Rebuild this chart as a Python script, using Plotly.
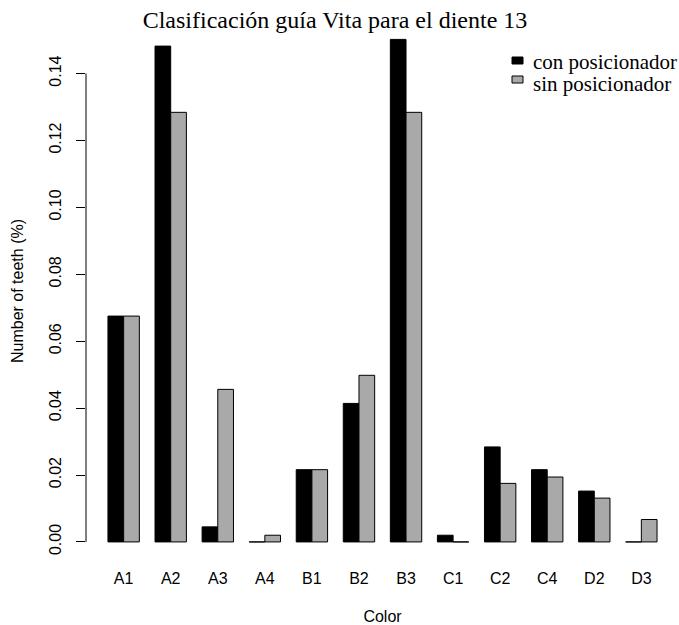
import plotly.graph_objects as go

# Vita shade categories and the share of teeth in each, per protocol
colores = ["A1", "A2", "A3", "A4", "B1", "B2", "B3", "C1", "C2", "C4", "D2", "D3"]
con_posicionador = [0.0675, 0.1482, 0.0045, 0.0, 0.0216, 0.0414, 0.1502, 0.0020, 0.0284, 0.0216, 0.0152, 0.0]
sin_posicionador = [0.0675, 0.1284, 0.0456, 0.0020, 0.0216, 0.0498, 0.1284, 0.0, 0.0175, 0.0194, 0.0131, 0.0067]
series_names = ["con posicionador", "sin posicionador"]
y_ticks = [0.00, 0.02, 0.04, 0.06, 0.08, 0.10, 0.12, 0.14]

W, H = 679, 625
ML, MR, MT, MB = 86, 0, 20, 63
PW, PH = W - ML - MR, H - MT - MB

def px_x(p):
    return (p - ML) / PW

def px_y(p):
    return (H - MB - p) / PH

fill = ["#000000", "#a9a9a9"]
sans = "Liberation Sans, Arial, sans-serif"
serif = "Liberation Serif, Times New Roman, serif"

fig = go.Figure()
for name, vals, col in zip(series_names, [con_posicionador, sin_posicionador], fill):
    fig.add_trace(go.Bar(
        x=colores, y=vals, name=name,
        marker=dict(color=col, line=dict(color="#000000", width=1)),
        showlegend=False,
    ))

shapes = [
    # y axis line spanning the labelled ticks only
    dict(type="line", xref="paper", yref="y", x0=0, x1=0,
         y0=y_ticks[0], y1=y_ticks[-1], line=dict(color="#000000", width=1)),
]
annotations = []

# legend boxes and labels in the top-right corner
box_x0, box_x1 = 512, 523
rows = [(57, 64, 62.5), (76, 83, 83.5)]
for (y0, y1, ty), name, col in zip(rows, series_names, fill):
    shapes.append(dict(type="rect", xref="paper", yref="paper",
                       x0=px_x(box_x0), x1=px_x(box_x1), y0=px_y(y1), y1=px_y(y0),
                       fillcolor=col, line=dict(color="#000000", width=1)))
    annotations.append(dict(xref="paper", yref="paper", x=px_x(531), y=px_y(ty),
                            xanchor="left", yanchor="middle", showarrow=False,
                            text=name, font=dict(family=serif, size=21, color="#000000")))

fig.update_layout(
    width=W, height=H,
    margin=dict(l=ML, r=MR, t=MT, b=MB),
    paper_bgcolor="#ffffff", plot_bgcolor="#ffffff",
    barmode="group", bargap=1/3, bargroupgap=0,
    title=dict(text="Clasificación guía Vita para el diente 13",
               x=335 / W, xanchor="center", xref="container",
               y=1 - 20 / H, yanchor="middle", yref="container",
               font=dict(family=serif, size=24, color="#000000")),
    xaxis=dict(range=[-0.8, 11.8], showline=False, showgrid=False, zeroline=False,
               ticks="", ticklabelstandoff=5,
               tickfont=dict(family=sans, size=16, color="#000000"),
               title=dict(text="Color", font=dict(family=sans, size=16, color="#000000"), standoff=25)),
    yaxis=dict(range=[-0.006, 0.156], tickvals=y_ticks, ticktext=[f"{v:.2f}" for v in y_ticks],
               showline=False, showgrid=False, zeroline=False,
               ticks="outside", ticklen=9, tickcolor="#000000", tickwidth=1,
               ticklabelstandoff=9,
               tickangle=-90, tickfont=dict(family=sans, size=16, color="#000000"),
               title=dict(text="Number of teeth (%)", font=dict(family=sans, size=16, color="#000000"), standoff=18)),
    shapes=shapes, annotations=annotations,
)

fig.write_html("out.html")
